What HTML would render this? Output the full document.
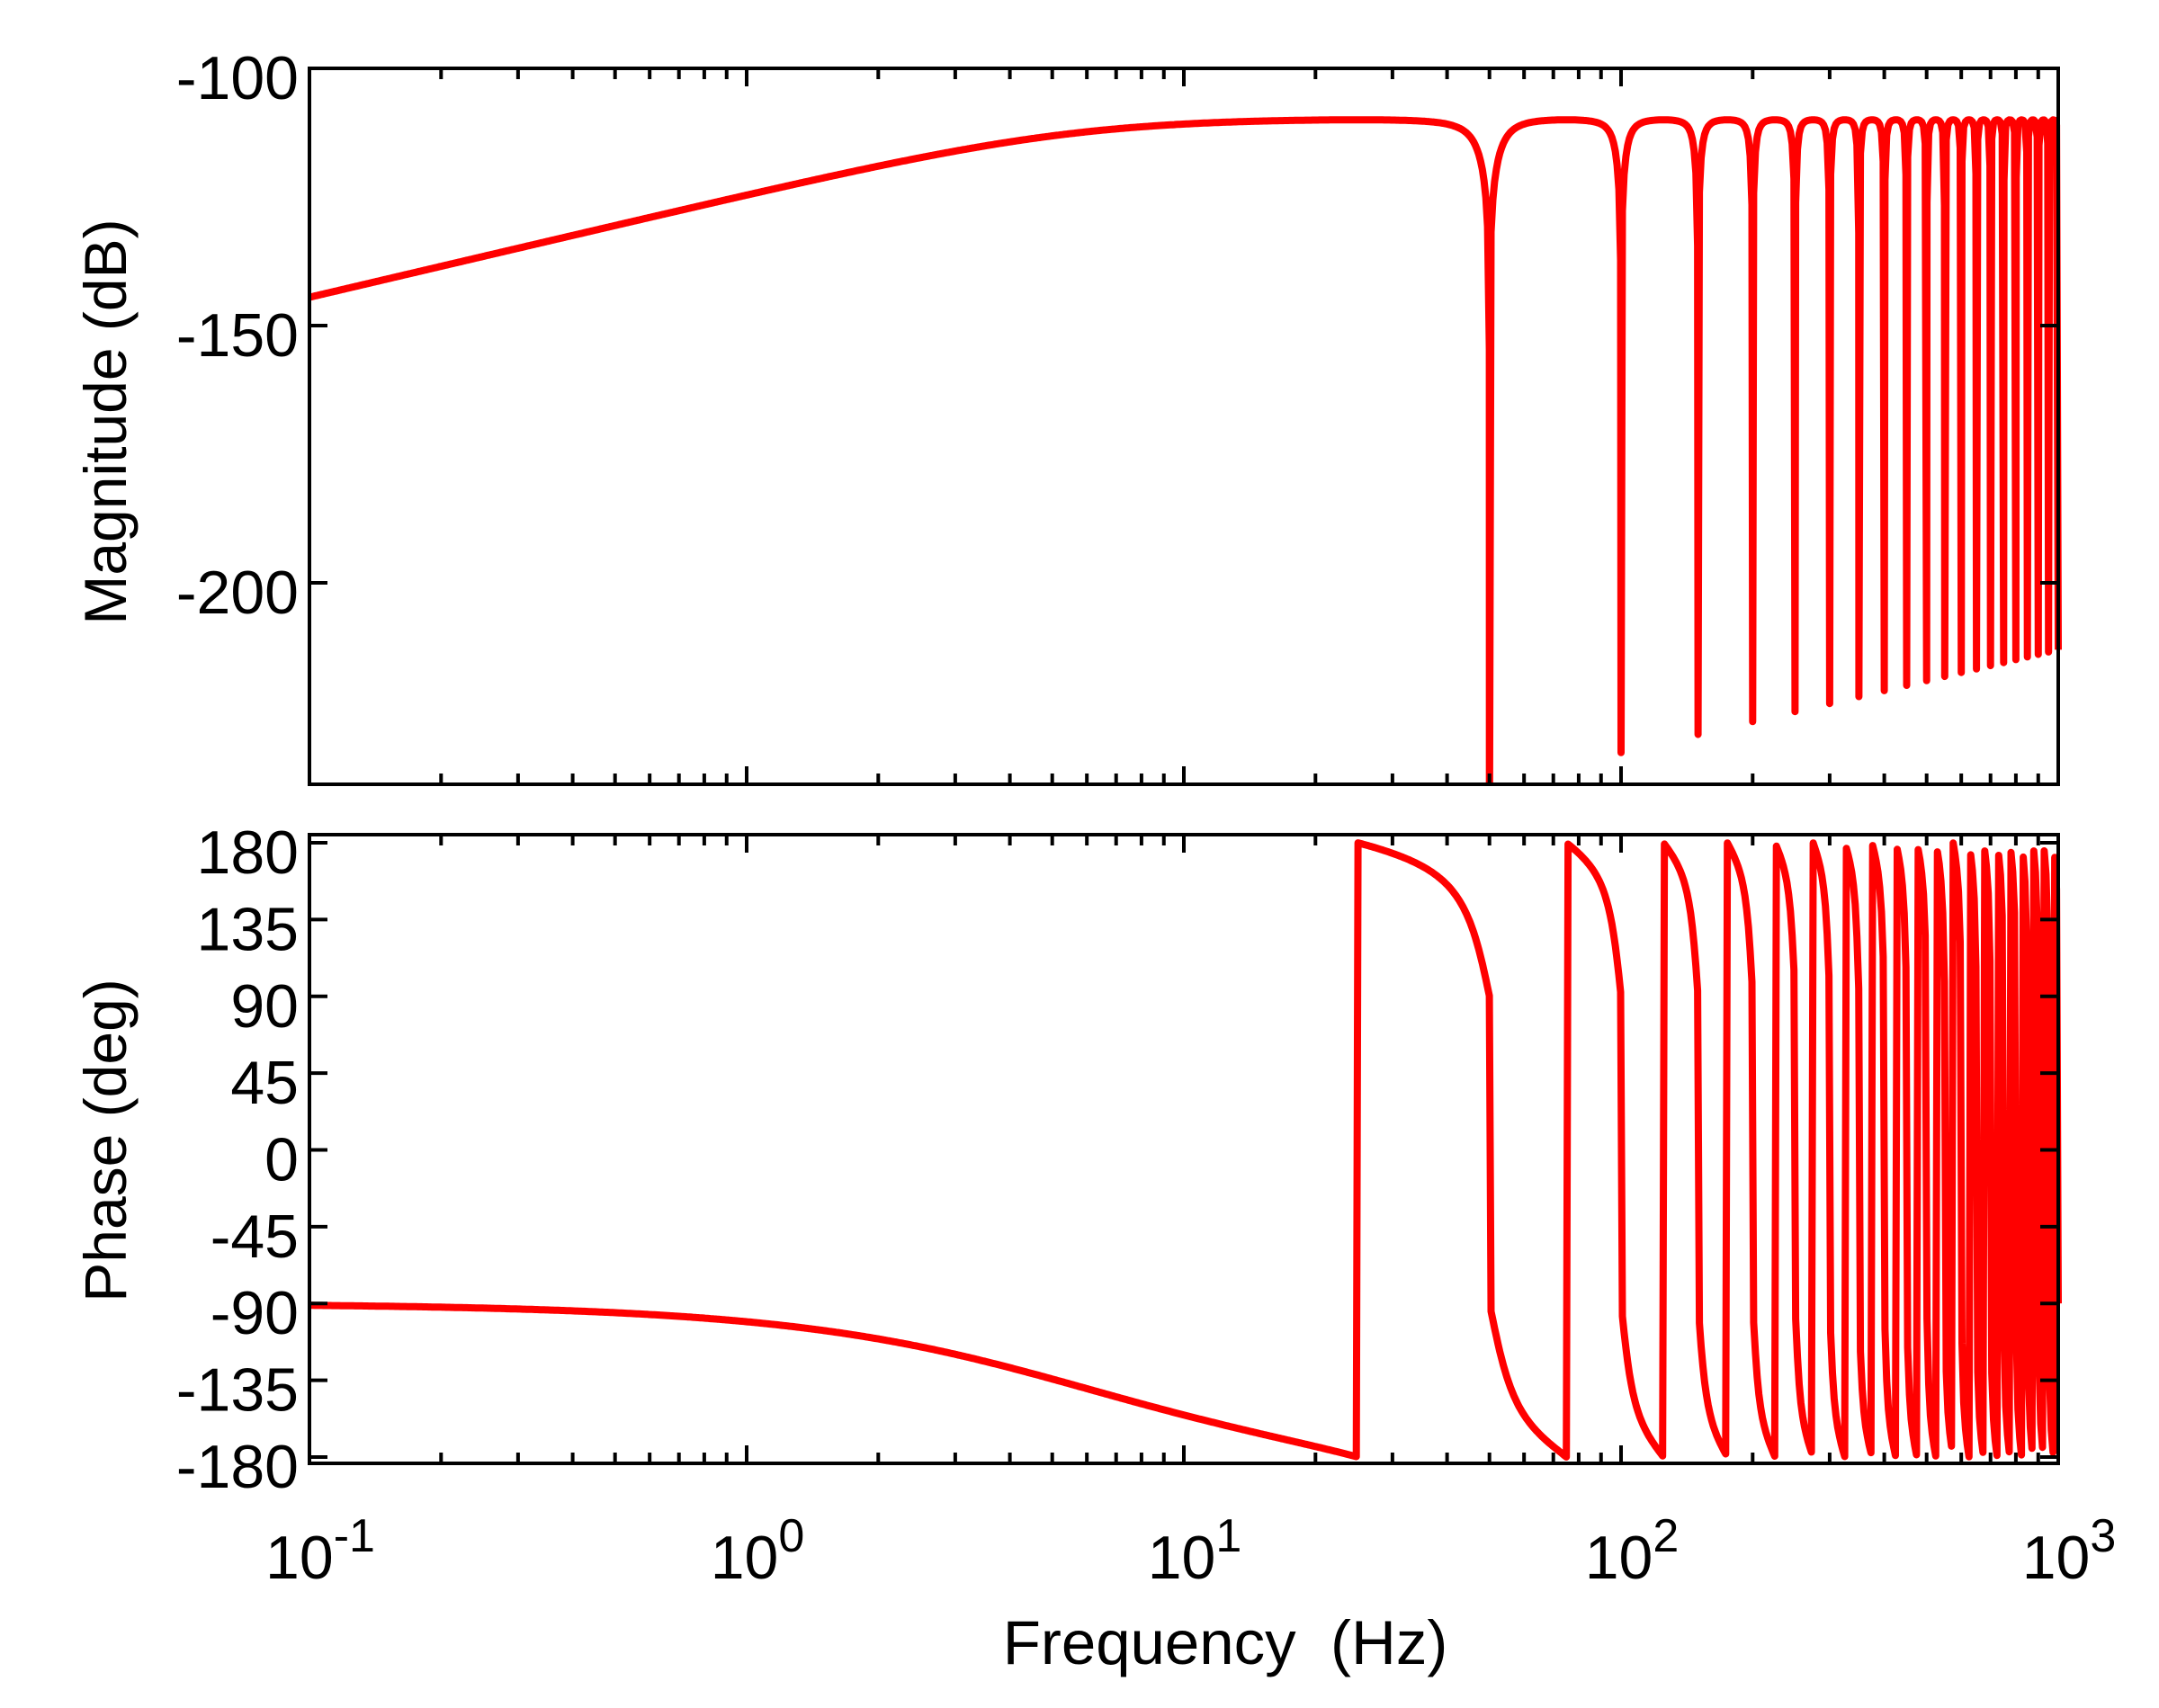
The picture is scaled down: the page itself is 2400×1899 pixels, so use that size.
<!DOCTYPE html>
<html><head><meta charset="utf-8"><style>
html,body{margin:0;padding:0;background:#fff;}
svg{display:block;}
text{font-family:"Liberation Sans",Arial,sans-serif;fill:#000;}
</style></head><body>
<svg id="s" width="2400" height="1899" viewBox="0 0 2400 1899" xmlns="http://www.w3.org/2000/svg">
<defs>
<clipPath id="c1"><rect x="344" y="76" width="1950" height="796"/></clipPath>
<clipPath id="c2"><rect x="344" y="928" width="1950" height="699"/></clipPath>
</defs>
<g id="curves"></g>
<g id="axes" stroke="#000" stroke-width="4" fill="none"></g>
<g id="labels" font-size="68"></g>
<text x="1362" y="1850" font-size="69" text-anchor="middle" xml:space="preserve">Frequency  (Hz)</text>
<text transform="translate(140,469) rotate(-90)" font-size="66" text-anchor="middle">Magnitude (dB)</text>
<text transform="translate(140,1268) rotate(-90)" font-size="66" text-anchor="middle">Phase (deg)</text>
</svg>
<script>
(function(){
var NS="http://www.w3.org/2000/svg";
var L=344,R=2288,T1=76,B1=872,T2=928,B2=1627,DEC=486;
function X(f){return L+(Math.log10(f)+1)*DEC;}
function Ym(db){return 76+(-100-db)*5.72;}
function Yp(d){return 1278.5-d*1.8972;}
function el(n,a,p,txt){var e=document.createElementNS(NS,n);for(var k in a)e.setAttribute(k,a[k]);if(txt!==undefined)e.textContent=txt;p.appendChild(e);return e;}
var ax=document.getElementById('axes'),lb=document.getElementById('labels'),cv=document.getElementById('curves');
var a=0.5,N=1000,fs=[];
for(var i=0;i<N;i++)fs.push(Math.pow(10,-1+4*i/(N-1)));
fs[N-1]=1000;
var notches=[];for(var k=1;k<=20;k++)notches.push(50*k);
function depth(k){return k<=1?-250:-233+20*Math.log10(k/2);}
var pts=[];
function mag(f){var th=2*Math.PI*f/50;var num=2*Math.abs(Math.sin(th/2));var den=Math.sqrt(1-2*a*Math.cos(th)+a*a);var r=num/den;if(r<1e-12)r=1e-12;
 var db=-112.5+20*Math.log10(r);var k=Math.round(f/50);if(k>=1){db=Math.max(db,depth(k));}return db;}
var all=fs.map(function(f){return {f:f,n:false};});
notches.slice(0,19).forEach(function(f,i){all.push({f:f,n:true,k:i+1});});
all.sort(function(p,q){return p.f-q.f;});
all.forEach(function(p){var db=p.n?depth(p.k):mag(p.f);pts.push(X(p.f).toFixed(1)+','+Ym(db).toFixed(1));});
el('polyline',{points:pts.join(' '),fill:'none',stroke:'#ff0000','stroke-width':8,'stroke-linejoin':'round','clip-path':'url(#c1)'},cv);
var pp=[];
fs.forEach(function(f){var th=360*f/50;var tm=th%360;var ph=-180+(180-tm)/2-Math.atan2(a*Math.sin(th*Math.PI/180),1-a*Math.cos(th*Math.PI/180))*180/Math.PI;
while(ph>180)ph-=360;while(ph<=-180)ph+=360;pp.push(X(f).toFixed(1)+','+Yp(ph).toFixed(1));});
el('polyline',{points:pp.join(' '),fill:'none',stroke:'#ff0000','stroke-width':8,'stroke-linejoin':'round','clip-path':'url(#c2)'},cv);
[[T1,B1],[T2,B2]].forEach(function(tb){
 el('rect',{x:L,y:tb[0],width:R-L,height:tb[1]-tb[0]},ax);
 for(var d=-1;d<3;d++){for(var m=1;m<10;m++){var f=m*Math.pow(10,d);var x=X(f);var len=m==1?20:12;
  if(m==1&&d==-1)continue;
  el('line',{x1:x,y1:tb[1],x2:x,y2:tb[1]-len},ax);el('line',{x1:x,y1:tb[0],x2:x,y2:tb[0]+len},ax);}}
});
[-100,-150,-200].forEach(function(v){var y=Ym(v);el('line',{x1:L,y1:y,x2:L+20,y2:y},ax);el('line',{x1:R,y1:y,x2:R-20,y2:y},ax);
 el('text',{x:332,y:y+34,'text-anchor':'end'},lb,String(v));});
[180,135,90,45,0,-45,-90,-135,-180].forEach(function(v){var y=Yp(v);el('line',{x1:L,y1:y,x2:L+20,y2:y},ax);el('line',{x1:R,y1:y,x2:R-20,y2:y},ax);
 el('text',{x:332,y:y+34,'text-anchor':'end'},lb,String(v));});
[-1,0,1,2,3].forEach(function(e){var x=L+(e+1)*DEC+12;var t=el('text',{x:x,y:1755,'text-anchor':'middle'},lb);
 var s1=document.createElementNS(NS,'tspan');s1.textContent='10';t.appendChild(s1);
 var s2=document.createElementNS(NS,'tspan');s2.setAttribute('font-size','52');s2.setAttribute('dy','-30');s2.textContent=String(e);t.appendChild(s2);});
})();
</script>
</body></html>
